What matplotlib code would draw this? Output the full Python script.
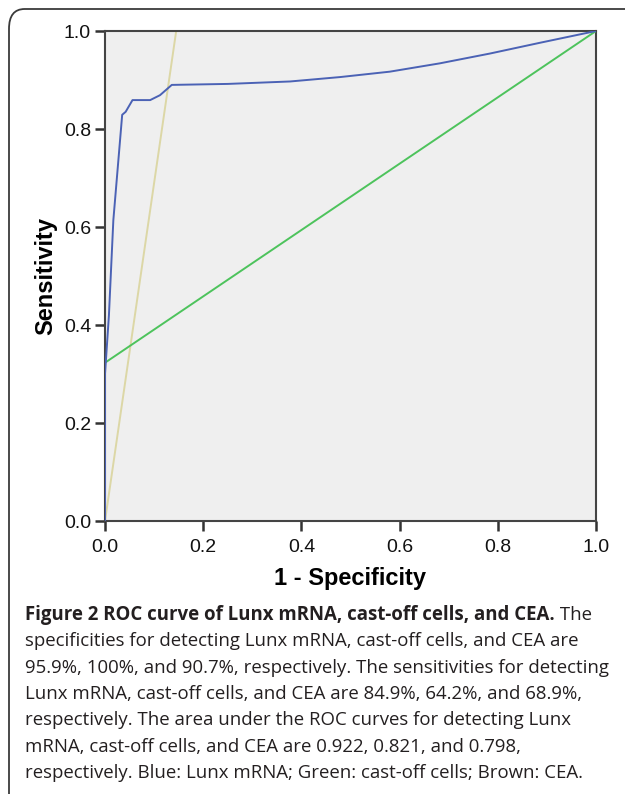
import matplotlib
matplotlib.use("Agg")
import matplotlib.pyplot as plt
from matplotlib.patches import FancyBboxPatch

# ---- data ----
lunx_fpr = [0.0, 0.0, 0.008, 0.017, 0.035, 0.042, 0.056, 0.092, 0.112, 0.136,
            0.25, 0.377, 0.479, 0.580, 0.682, 0.784, 0.886, 1.0]
lunx_tpr = [0.0, 0.30, 0.42, 0.614, 0.829, 0.835, 0.859, 0.859, 0.869, 0.890,
            0.892, 0.897, 0.906, 0.917, 0.934, 0.954, 0.976, 1.0]
cast_fpr = [0.0, 1.0]
cast_tpr = [0.323, 1.0]
cea_fpr = [0.0, 0.145]
cea_tpr = [0.0, 1.0]
ticks = [0.0, 0.2, 0.4, 0.6, 0.8, 1.0]
tick_labels = ["0.0", "0.2", "0.4", "0.6", "0.8", "1.0"]

caption_bold = "Figure 2 ROC curve of Lunx mRNA, cast-off cells, and CEA."
caption_first_rest = " The"
caption_lines = [
    "specificities for detecting Lunx mRNA, cast-off cells, and CEA are",
    "95.9%, 100%, and 90.7%, respectively. The sensitivities for detecting",
    "Lunx mRNA, cast-off cells, and CEA are 84.9%, 64.2%, and 68.9%,",
    "respectively. The area under the ROC curves for detecting Lunx",
    "mRNA, cast-off cells, and CEA are 0.922, 0.821, and 0.798,",
    "respectively. Blue: Lunx mRNA; Green: cast-off cells; Brown: CEA.",
]

W, H = 625, 794
fig = plt.figure(figsize=(W / 100, H / 100), dpi=100)
fig.patch.set_facecolor("white")

# border box
box = FancyBboxPatch((9 / W, -20 / H), (W + 40) / W, (H - 9 + 20) / H,
                     boxstyle="round,pad=0,rounding_size=0.025",
                     transform=fig.transFigure, fill=False,
                     edgecolor="#3a3a3a", linewidth=1.3, clip_on=False)
fig.patches.append(box)

ax = fig.add_axes([105 / W, 1 - 521 / H, 491 / W, 490 / H])
ax.set_facecolor("#efefef")
ax.plot(cea_fpr, cea_tpr, color="#dcd7a6", lw=1.4, zorder=2)
ax.plot(cast_fpr, cast_tpr, color="#4dc35c", lw=1.4, zorder=3)
ax.plot(lunx_fpr, lunx_tpr, color="#4b62b5", lw=1.4, zorder=4)
ax.set_xlim(0, 1)
ax.set_ylim(0, 1)
ax.set_xticks(ticks)
ax.set_xticklabels(tick_labels)
ax.set_yticks(ticks)
ax.set_yticklabels(tick_labels)
for s in ax.spines.values():
    s.set_color("#444444")
    s.set_linewidth(1.5)
ax.tick_params(direction="out", length=7, width=1.8, color="#333333",
               labelsize=14, labelcolor="#111111", pad=3)
ax.tick_params(axis="x", pad=6)
for lab in ax.get_xticklabels() + ax.get_yticklabels():
    lab.set_family("Liberation Sans")
ax.set_xlabel("1 - Specificity", fontsize=17, fontweight="bold",
              family="Liberation Sans", labelpad=8)
ax.set_ylabel("Sensitivity", fontsize=17, fontweight="bold",
              family="Liberation Sans", labelpad=5)

# caption
x0 = 25 / W
y0 = 1 - 615 / H
dy = 26.3 / H
fs = 13.4
col = "#231f20"
t1 = fig.text(x0, y0, caption_bold, fontsize=fs, fontweight="bold",
              family="Open Sans", va="center", ha="left", color=col)
fig.canvas.draw()
bb = t1.get_window_extent()
fig.text(bb.x1 / W, y0, caption_first_rest, fontsize=fs, family="Open Sans",
         va="center", ha="left", color=col)
for i, line in enumerate(caption_lines):
    fig.text(x0, y0 - (i + 1) * dy, line, fontsize=fs, family="Open Sans",
             va="center", ha="left", color=col)

fig.savefig("out.png", dpi=100)
